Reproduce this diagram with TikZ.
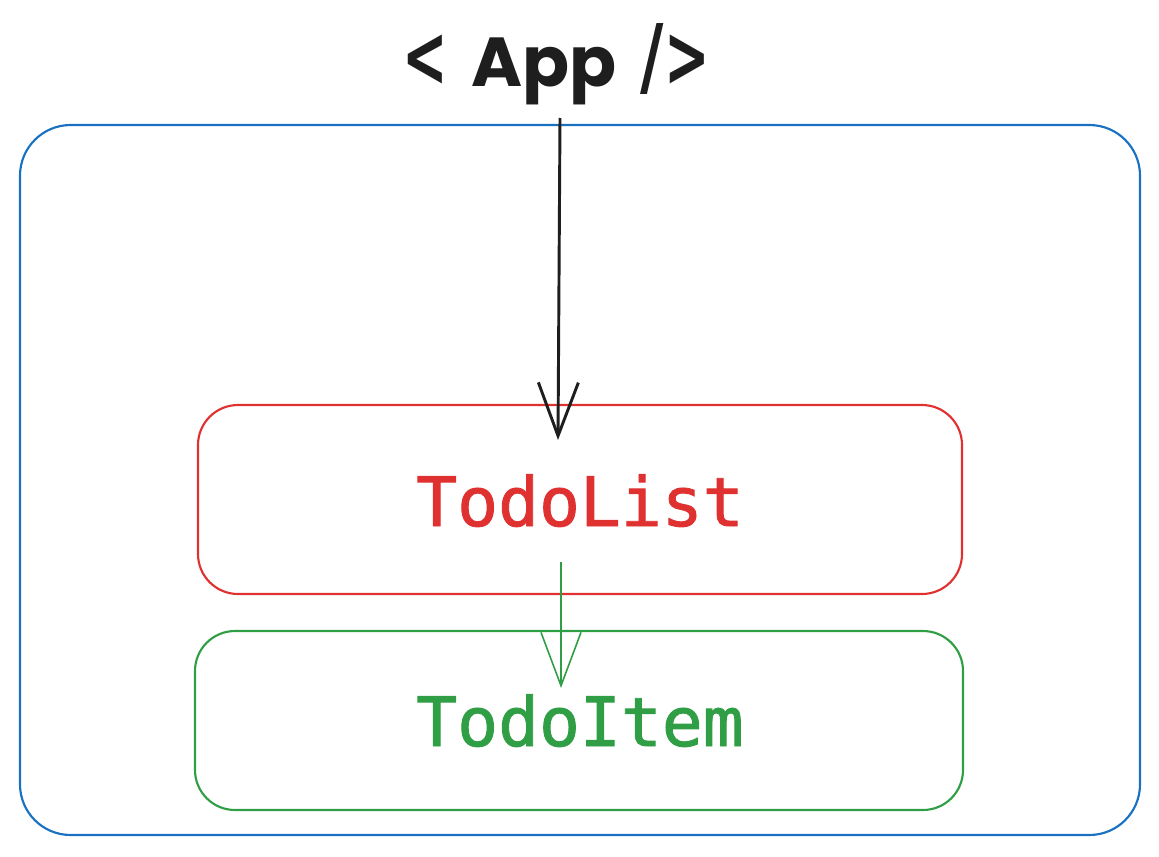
\documentclass[tikz,border=0pt]{standalone}
\usepackage{fontspec}
\usepackage{graphicx}
\newfontfamily\monofont[FakeBold=1.3]{DejaVu Sans Mono}
\newfontfamily\titlefont{Poppins}
\newfontfamily\symfont{DejaVu Sans}
\usetikzlibrary{arrows.meta}
\definecolor{exblue}{HTML}{1971C2}
\definecolor{exred}{HTML}{E03131}
\definecolor{exgreen}{HTML}{2F9E44}
\definecolor{exblack}{HTML}{1E1E1E}
\tikzset{
  box/.style={draw, rounded corners=#1, line width=1.6pt},
  label/.style={font=\monofont\fontsize{51}{60}\selectfont, inner sep=0pt, anchor=base},
  flow/.style={-{Straight Barb[length=40pt,width=30pt,line width=#1]}, line width=#1},
}
\begin{document}
\begin{tikzpicture}[x=0.75pt,y=-0.75pt]
\useasboundingbox (0,0) rectangle (1159,856);
% outer App box
\draw[box=38pt, exblue] (20,125) rectangle (1140,835);
% TodoList box
\draw[box=30pt, exred] (198,405) rectangle (962,594);
% TodoItem box
\draw[box=30pt, exgreen] (195,631) rectangle (963,810);
% texts
\node[text=exblack, anchor=base, inner sep=0pt] (app) at (556,86)
  {{\symfont\bfseries\fontsize{48}{60}\selectfont \scalebox{0.85}[1.35]{<}}\hspace{18pt}{\titlefont\bfseries\fontsize{52}{60}\selectfont App}\hspace{18pt}{\symfont\bfseries\fontsize{48}{60}\selectfont \scalebox{1}[1.35]{/}\scalebox{0.85}[1.35]{>}}};
\node[label, text=exred] (todolist) at (580,526) {TodoList};
\node[label, text=exgreen] (todoitem) at (580,746) {TodoItem};
% connectors
\coordinate (a1) at (560,118);
\coordinate (a2) at (558,440);
\coordinate (g1) at (561,562);
\coordinate (g2) at (561,688);
\draw[flow=2.2pt, exblack] (a1) -- (a2);
\draw[flow=1.2pt, exgreen] (g1) -- (g2);
\end{tikzpicture}
\end{document}
